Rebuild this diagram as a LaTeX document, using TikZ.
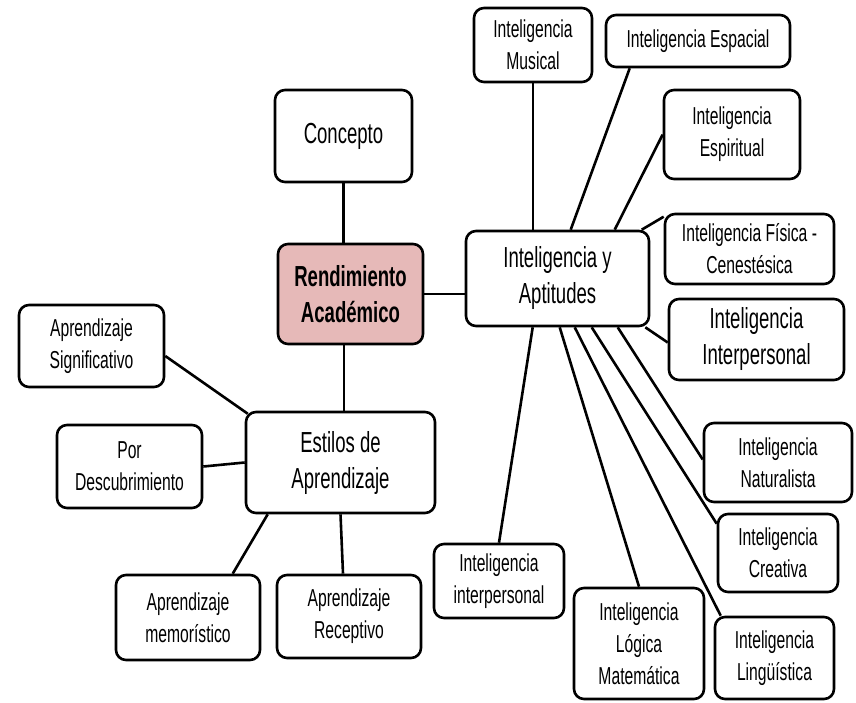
\documentclass[tikz,border=0pt]{standalone}
\usepackage{fontspec}
\setmainfont{Liberation Sans}[FakeStretch=0.64]
\definecolor{rosa}{RGB}{230,185,184}

\begin{document}
\begin{tikzpicture}[x=1pt,y=-1pt,line width=2.6pt]
			\path[fill=white,use as bounding box] (0,0) rectangle (856,703);
			\begin{scope}[every node/.style={draw,rounded corners=10pt,align=center,
				inner sep=2pt,font=\fontsize{24.5}{32}\selectfont},
				big/.style={font=\fontsize{29}{36}\selectfont}]
			\node (CON) at (343.5,136) [big,minimum width=137pt,minimum height=92pt]{Concepto};
			\node (REN) at (350.5,294) [big,fill=rosa,minimum width=145pt,minimum height=100pt]{\textbf{Rendimiento}\\\textbf{Académico}};
			\node (INT) at (557.5,278.5) [big,minimum width=183pt,minimum height=95pt]{Inteligencia y\\Aptitudes};
			\node (MUS) at (533,45) [minimum width=118pt,minimum height=74pt]{Inteligencia\\Musical};
			\node (ESC) at (698,41) [minimum width=184pt,minimum height=52pt]{Inteligencia Espacial};
			\node (ESR) at (732,134.5) [minimum width=136pt,minimum height=89pt]{Inteligencia\\Espiritual};
			\node (FIS) at (749.5,249) [minimum width=169pt,minimum height=70pt]{Inteligencia Física -\\Cenestésica};
			\node (INP) at (756.5,339.5) [big,minimum width=175pt,minimum height=81pt]{Inteligencia\\Interpersonal};
			\node (NAT) at (778,462.5) [minimum width=148pt,minimum height=79pt]{Inteligencia\\Naturalista};
			\node (CRE) at (778,553) [minimum width=120pt,minimum height=78pt]{Inteligencia\\Creativa};
			\node (LIN) at (774.5,658) [minimum width=119pt,minimum height=82pt]{Inteligencia\\Lingüística};
			\node (LOG) at (639,643.5) [minimum width=130pt,minimum height=111pt]{Inteligencia\\Lógica\\Matemática};
			\node (INB) at (499,581) [minimum width=130pt,minimum height=74pt]{Inteligencia\\interpersonal};
			\node (SIG) at (91.5,346) [minimum width=145pt,minimum height=82pt]{Aprendizaje\\Significativo};
			\node (EST) at (340.5,462.5) [big,minimum width=189pt,minimum height=101pt]{Estilos de\\Aprendizaje};
			\node (DES) at (129.5,466.5) [minimum width=145pt,minimum height=83pt]{Por\\Descubrimiento};
			\node (MEM) at (188,617.5) [minimum width=144pt,minimum height=85pt]{Aprendizaje\\memorístico};
			\node (REC) at (349,616.5) [minimum width=144pt,minimum height=83pt]{Aprendizaje\\Receptivo};
			\end{scope}
			
			\path (CON.south) edge (CON.south |- REN.north);
			\path ([xshift=-6.5pt]REN.south) edge ([xshift=-6.5pt]REN.south |- EST.north);
			\path (REN.east) edge (REN.east -| INT.west);
			\path (MUS.south) edge (MUS.south |- INT.north);
			\path ([xshift=25pt]ESC.south west) edge ([xshift=106pt]INT.north west);
			\path (ESR.west) edge ([xshift=150pt]INT.north west);
			\path ([yshift=-4pt]FIS.north west) edge ([xshift=177pt]INT.north west);
			\path ([xshift=-5pt]INT.south east) edge ([yshift=-3pt]INP.west);
			\path ([xshift=68pt]INT.south west) edge (INB.north);
			\path ([xshift=95pt]INT.south west) edge (LOG.north);
			\path ([xshift=110pt]INT.south west) edge ([xshift=7pt]LIN.north west);
			\path ([xshift=127pt]INT.south west) edge ([yshift=-11pt]CRE.north west);
			\path ([xshift=153pt]INT.south west) edge ([yshift=3pt]NAT.west);
			\path ([yshift=-10pt]SIG.east) edge ([shift={(3pt,-3pt)}]EST.north west);
			\path (DES.east) edge (EST.west);
			\path ([xshift=23pt]EST.south west) edge ([xshift=118pt]MEM.north west);
			\path (EST.south) edge ([xshift=-6pt]REC.north);
			\end{tikzpicture}
\end{document}
